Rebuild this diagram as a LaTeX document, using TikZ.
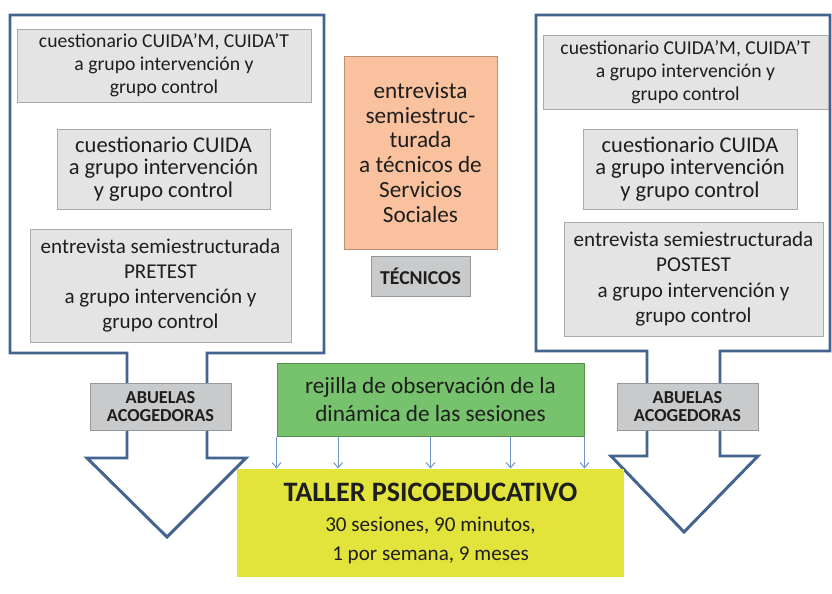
\documentclass[tikz,border=0pt]{standalone}
\usepackage{fontspec}
\setmainfont{Carlito}
\usetikzlibrary{arrows.meta, positioning, calc}
\definecolor{outlinecolor}{RGB}{66,100,142}
\definecolor{greycolor}{RGB}{228,228,228}
\definecolor{darkgreycolor}{RGB}{200,202,203}
\definecolor{salmoncolor}{RGB}{249,193,158}
\definecolor{greencolor}{RGB}{119,194,108}
\definecolor{yellowcolor}{RGB}{226,228,60}
\definecolor{arrowcolor}{RGB}{111,149,196}
\definecolor{textcolor}{RGB}{30,30,30}

\begin{document}
\begin{tikzpicture}[
    box/.style={draw=#1!75!black, fill=#1, line width=0.7pt, align=center, inner sep=2pt, text=textcolor},
    bigarrow/.style={draw=outlinecolor, line width=2.1pt, fill=white, line join=miter},
    arrow/.style={-{Straight Barb[length=1.3mm, width=2.2mm]}, draw=arrowcolor, line width=0.7pt}
]
    \useasboundingbox (0,0) rectangle (20.8,-14.825);

    % Outlines
    \draw[bigarrow] (0.25,-0.375) -- (8.1,-0.375) -- (8.1,-8.825) -- (5.175,-8.825) -- (5.175,-11.45) -- (6.15,-11.45)
        -- (4.175,-13.425) -- (2.175,-11.45) -- (3.175,-11.45) -- (3.175,-8.825) -- (0.25,-8.825) -- cycle;
    \draw[bigarrow] (13.4,-0.375) -- (20.75,-0.375) -- (20.75,-8.775) -- (18,-8.775) -- (18,-11.4) -- (18.95,-11.4)
        -- (17.1,-13.3) -- (15.275,-11.4) -- (16.175,-11.4) -- (16.175,-8.775) -- (13.4,-8.775) -- cycle;

    \node[box=greycolor, minimum width=7.35cm, minimum height=1.825cm, font=\fontsize{14}{16.3}\selectfont] (qL) at (4.1,-1.6375) {cuestionario CUIDA’M, CUIDA’T\\a grupo intervención y\\grupo control};
    \node[box=greycolor, minimum width=5.325cm, minimum height=2cm, font=\fontsize{16}{15.8}\selectfont] (cuidaL) at (4.0875,-4.225) {cuestionario CUIDA\\a grupo intervención\\y grupo control};
    \node[box=greycolor, minimum width=6.525cm, minimum height=2.825cm, font=\fontsize{15}{18}\selectfont] (pre) at (4.0125,-7.1375) {entrevista semiestructurada\\PRETEST\\a grupo intervención y\\grupo control};

    \node[box=greycolor, minimum width=7.125cm, minimum height=1.85cm, font=\fontsize{14}{16.3}\selectfont] (qR) at (17.1375,-1.8) {cuestionario CUIDA’M, CUIDA’T\\a grupo intervención y\\grupo control};
    \node[box=greycolor, minimum width=5.35cm, minimum height=2cm, font=\fontsize{16}{15.8}\selectfont] (cuidaR) at (17.25,-4.225) {cuestionario CUIDA\\a grupo intervención\\y grupo control};
    \node[box=greycolor, minimum width=6.475cm, minimum height=2.85cm, font=\fontsize{15}{18}\selectfont] (post) at (17.3375,-6.975) {entrevista semiestructurada\\POSTEST\\a grupo intervención y\\grupo control};

    \node[box=salmoncolor, minimum width=3.825cm, minimum height=4.825cm, font=\fontsize{16.5}{17.7}\selectfont] (entrev) at (10.5125,-3.8125) {entrevista\\semiestruc-\\turada\\a técnicos de\\Servicios\\Sociales};
    \node[box=darkgreycolor, minimum width=2.475cm, minimum height=1cm, font=\fontsize{14}{15}\selectfont\bfseries] (tec) at (10.5125,-6.9) {TÉCNICOS};

    \node[box=darkgreycolor, minimum width=3.525cm, minimum height=1.175cm, font=\fontsize{13}{13}\selectfont\bfseries] (abL) at (4.0125,-10.1625) {ABUELAS\\ACOGEDORAS};
    \node[box=darkgreycolor, minimum width=3.525cm, minimum height=1.175cm, font=\fontsize{13}{13}\selectfont\bfseries] (abR) at (17.1875,-10.1625) {ABUELAS\\ACOGEDORAS};

    \node[box=greencolor, minimum width=7.675cm, minimum height=1.825cm, font=\fontsize{16.5}{20}\selectfont] (rej) at (10.7625,-9.9875) {rejilla de observación de la\\dinámica de las sesiones};
    \node[box=yellowcolor, draw=none, minimum width=9.675cm, minimum height=2.7cm, font=\fontsize{15}{20}\selectfont] (taller) at (10.7625,-13.075) {{\fontsize{20}{22}\selectfont\bfseries TALLER PSICOEDUCATIVO}\\[2pt]30 sesiones, 90 minutos,\\1 por semana, 9 meses};

    \foreach \f [count=\i] in {0,0.2,0.5,0.76,1} {
        \coordinate (s\i) at ($(rej.south west)!\f!(rej.south east)$);
        \draw[arrow] (s\i) -- (s\i |- taller.north);
    }
\end{tikzpicture}
\end{document}
